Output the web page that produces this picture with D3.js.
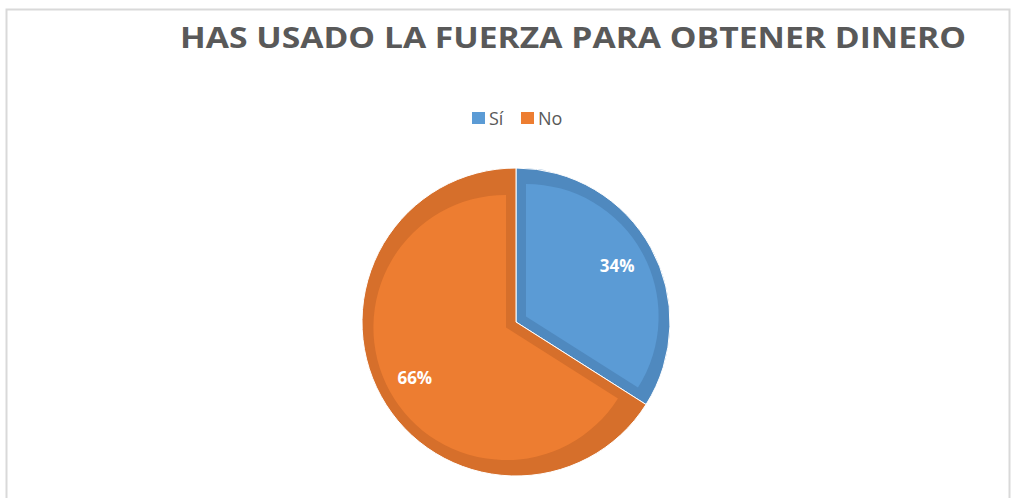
<!DOCTYPE html>
<html>
<head>
<meta charset="utf-8">
<script src="https://cdn.jsdelivr.net/npm/d3@7"></script>
<style>
  body { margin:0; background:#fff; }
  svg { display:block; font-family:"Open Sans", "Liberation Sans", sans-serif; }
</style>
</head>
<body>
<div id="chart"></div>
<script>
// datos del gráfico
const categories = ["Sí", "No"];
const values = [34, 66];
const labels = ["34%", "66%"];
const colors = ["#5B9BD5", "#ED7D31"];
const edgeColors = ["#4F89BF", "#D66F2B"];

const W = 1011, H = 498;
const svg = d3.select("#chart").append("svg")
  .attr("width", W)
  .attr("height", H);

// marco
svg.append("rect")
  .attr("x", 6.5).attr("y", 9.5)
  .attr("width", 1003).attr("height", 500)
  .attr("fill", "none")
  .attr("stroke", "#d9d9d9")
  .attr("stroke-width", 2);

// título
svg.append("text")
  .attr("x", 573)
  .attr("y", 48)
  .attr("text-anchor", "middle")
  .attr("textLength", 786)
  .attr("lengthAdjust", "spacingAndGlyphs")
  .style("font-size", "29px")
  .style("font-weight", "700")
  .style("fill", "#595959")
  .text("HAS USADO LA FUERZA PARA OBTENER DINERO");

// leyenda
const legendX = [472, 521];
const leg = svg.append("g");
categories.forEach((c, i) => {
  leg.append("rect")
    .attr("x", legendX[i]).attr("y", 112)
    .attr("width", 13).attr("height", 12)
    .attr("fill", colors[i]);
  leg.append("text")
    .attr("x", legendX[i] + 17)
    .attr("y", 125)
    .style("font-size", "18px")
    .style("fill", "#595959")
    .text(c);
});

// pastel
const cx = 516, cy = 322, r = 154;
const pie = d3.pie().sort(null).value(d => d)(values);
const g = svg.append("g").attr("transform", `translate(${cx},${cy})`);

const arcOuter = d3.arc().innerRadius(0).outerRadius(r);

g.selectAll(".slice")
  .data(pie)
  .enter().append("path")
  .attr("class", "slice")
  .attr("d", arcOuter)
  .attr("fill", (d, i) => edgeColors[i])
  .attr("stroke", "#fff")
  .attr("stroke-width", 1);

// parte interior más clara (efecto bisel)
const inset = 10;
g.selectAll(".inner")
  .data(pie)
  .enter().append("path")
  .attr("class", "inner")
  .attr("transform", d => {
    const a = (d.startAngle + d.endAngle) / 2;
    const span = d.endAngle - d.startAngle;
    const off = inset / Math.sin(span / 2);
    return `translate(${Math.sin(a) * off},${-Math.cos(a) * off})`;
  })
  .attr("d", d => {
    const span = d.endAngle - d.startAngle;
    const off = inset / Math.sin(span / 2);
    return d3.arc().innerRadius(0).outerRadius(r - inset - off)(d);
  })
  .attr("fill", (d, i) => colors[i]);

// etiquetas
const arcLabel = d3.arc().innerRadius(r * 0.75).outerRadius(r * 0.75);
g.selectAll(".lbl")
  .data(pie)
  .enter().append("text")
  .attr("class", "lbl")
  .attr("x", d => arcLabel.centroid(d)[0])
  .attr("y", d => arcLabel.centroid(d)[1] + 6)
  .attr("text-anchor", "middle")
  .style("font-size", "17px")
  .style("font-weight", "700")
  .style("fill", "#fff")
  .text((d, i) => labels[i]);
</script>
</body>
</html>
